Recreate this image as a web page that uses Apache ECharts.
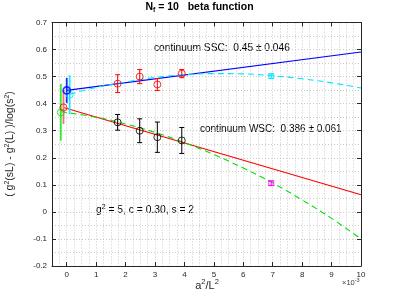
<!DOCTYPE html>
<html><head><meta charset="utf-8">
<script src="https://cdn.jsdelivr.net/npm/echarts@6/dist/echarts.min.js"></script>
<style>html,body{margin:0;padding:0;background:#fff}#c{width:399px;height:299px}</style>
</head><body><div id="c"></div>
<script>
// ---- data (x in units of 1e-3) ----
const latticeX = [1.73, 2.48, 3.08, 3.91];
const sscY = [0.474, 0.500, 0.471, 0.511];
const sscErr = [0.033, 0.026, 0.022, 0.015];
const wscY = [0.331, 0.300, 0.276, 0.264];
const wscErr = [0.029, 0.044, 0.056, 0.048];
// continuum extrapolations [x, y, err]
const contBlue = [0.0, 0.449, 0.046];
const contCyan = [0.1, 0.433, 0.072];
const contRed = [-0.11, 0.386, 0.061];
const contGreen = [-0.2, 0.368, 0.105];
// square points
const sqCyan = [6.95, 0.502, 0.008];
const sqMagenta = [6.95, 0.106, 0.008];
// fit lines
const blueLineX = [0, 10];
const blueLineY = [0.449, 0.591];
const redLineX = [-0.11, 10];
const redLineY = [0.386, 0.063];
const cyanCurveX = [0.1, 1, 2, 3, 4, 5, 6, 7, 8, 9, 10];
const cyanCurveY = [0.435, 0.460, 0.480, 0.497, 0.507, 0.511, 0.510, 0.503, 0.492, 0.477, 0.458];
const greenCurveX = [-0.2, 1, 2, 3, 4, 5, 6, 7, 8, 9, 10];
const greenCurveY = [0.370, 0.350, 0.325, 0.294, 0.256, 0.212, 0.162, 0.107, 0.044, -0.024, -0.100];

const zip = (xs, ys) => xs.map((x, i) => [x, ys[i]]);
const FONT = 'Liberation Sans';
const AX = '#262626';
const GRIDC = '#c8c8c8';

function errSeries(color, pts, caps, lw) {
  return {
    type: 'custom', xAxisIndex: 0, yAxisIndex: 0, z: 3,
    data: pts.map(p => [p[0], p[1] - p[2], p[1] + p[2]]),
    renderItem: function (params, api) {
      const lo = api.coord([api.value(0), api.value(1)]);
      const hi = api.coord([api.value(0), api.value(2)]);
      const w = 2.5;
      const st = { stroke: color, lineWidth: lw || 1 };
      const ch = [{ type: 'line', shape: { x1: lo[0], y1: lo[1], x2: hi[0], y2: hi[1] }, style: st }];
      if (caps !== false) {
        ch.push({ type: 'line', shape: { x1: lo[0] - w, y1: lo[1], x2: lo[0] + w, y2: lo[1] }, style: st });
        ch.push({ type: 'line', shape: { x1: hi[0] - w, y1: hi[1], x2: hi[0] + w, y2: hi[1] }, style: st });
      }
      return { type: 'group', children: ch };
    }
  };
}
function markSeries(color, pts, symbol, size, bw) {
  return {
    type: 'scatter', xAxisIndex: 0, yAxisIndex: 0, z: 4,
    symbol: symbol || 'circle', symbolSize: size || 7,
    itemStyle: { color: 'rgba(0,0,0,0)', borderColor: color, borderWidth: bw || 1 },
    data: pts.map(p => [p[0], p[1]])
  };
}
function lineSeries(color, data, dashed, smooth) {
  return {
    type: 'line', xAxisIndex: 0, yAxisIndex: 0, z: 2, showSymbol: false, symbol: 'none',
    smooth: smooth ? 0.4 : false,
    lineStyle: { color: color, width: 1.1, type: dashed ? [6, 4] : 'solid' },
    data: data
  };
}

const chart = echarts.init(document.getElementById('c'), null, { renderer: 'canvas' });
chart.setOption({
  animation: false,
  backgroundColor: '#fff',
  textStyle: { fontFamily: FONT },
  grid: [
    { left: 52, right: 38, top: 22.5, bottom: 33, containLabel: false },
    { left: 66.7, right: 38, top: 22.5, bottom: 33, containLabel: false }
  ],
  xAxis: [
    { type: 'value', gridIndex: 0, min: -0.5, max: 10, interval: 0.25,
      axisLine: { show: true, onZero: false, lineStyle: { color: AX, width: 1 } },
      axisTick: { show: false }, axisLabel: { show: false },
      splitLine: { show: true, lineStyle: { color: GRIDC, type: [1, 2], width: 1 } } },
    { type: 'value', gridIndex: 0, position: 'top', min: -0.5, max: 10,
      axisLine: { show: true, onZero: false, lineStyle: { color: AX, width: 1 } },
      axisTick: { show: false }, axisLabel: { show: false }, splitLine: { show: false } },
    { type: 'value', gridIndex: 1, min: 0, max: 10, interval: 1, position: 'bottom',
      axisLine: { show: false, onZero: false },
      axisTick: { show: true, inside: true, length: 4, lineStyle: { color: AX } },
      axisLabel: { show: true, color: AX, fontSize: 8, fontFamily: FONT, margin: 5 },
      splitLine: { show: false } },
    { type: 'value', gridIndex: 1, min: 0, max: 10, interval: 1, position: 'top',
      axisLine: { show: false, onZero: false },
      axisTick: { show: true, inside: true, length: 4, lineStyle: { color: AX } },
      axisLabel: { show: false }, splitLine: { show: false } }
  ],
  yAxis: [
    { type: 'value', gridIndex: 0, min: -0.2, max: 0.7, interval: 0.1,
      axisLine: { show: true, onZero: false, lineStyle: { color: AX, width: 1 } },
      axisTick: { show: true, inside: true, length: 4, lineStyle: { color: AX } },
      axisLabel: { show: true, color: AX, fontSize: 8, fontFamily: FONT, margin: 5,
        formatter: v => (Math.abs(v) < 1e-9 ? '0' : (+v.toFixed(1)).toString()) },
      splitLine: { show: true, lineStyle: { color: GRIDC, type: [1, 2], width: 1 } },
      minorTick: { show: false, splitNumber: 2 },
      minorSplitLine: { show: true, lineStyle: { color: GRIDC, type: [1, 2], width: 1 } } },
    { type: 'value', gridIndex: 0, position: 'right', min: -0.2, max: 0.7, interval: 0.1,
      axisLine: { show: true, onZero: false, lineStyle: { color: AX, width: 1 } },
      axisTick: { show: true, inside: true, length: 4, lineStyle: { color: AX } },
      axisLabel: { show: false }, splitLine: { show: false } },
    { type: 'value', gridIndex: 1, min: -0.2, max: 0.7, show: false }
  ],
  series: [
    lineSeries('#0000ff', zip(blueLineX, blueLineY), false, false),
    lineSeries('#ff0000', zip(redLineX, redLineY), false, false),
    lineSeries('#00e5ff', zip(cyanCurveX, cyanCurveY), true, true),
    lineSeries('#00e000', zip(greenCurveX, greenCurveY), true, true),
    errSeries('#ff0000', latticeX.map((x, i) => [x, sscY[i], sscErr[i]])),
    markSeries('#ff0000', latticeX.map((x, i) => [x, sscY[i]])),
    errSeries('#000000', latticeX.map((x, i) => [x, wscY[i], wscErr[i]])),
    markSeries('#000000', latticeX.map((x, i) => [x, wscY[i]])),
    errSeries('#33ee33', [contGreen], false, 1.8),
    markSeries('#00e000', [contGreen]),
    errSeries('#ee7777', [contRed], false, 1.8),
    markSeries('#ff0000', [contRed]),
    errSeries('#22e8ff', [contCyan], false, 1.8),
    markSeries('#00e5ff', [contCyan]),
    errSeries('#2222ff', [contBlue], false, 1.8),
    markSeries('#0000ff', [contBlue], 'circle', 7, 1.8),
    errSeries('#00e5ff', [sqCyan]),
    markSeries('#00e5ff', [sqCyan], 'rect', 5),
    errSeries('#ff00ff', [sqMagenta]),
    markSeries('#ff00ff', [sqMagenta], 'rect', 5)
  ],
  graphic: [
    { type: 'text', left: 'center', top: 2, style: {
        rich: { b: { fontFamily: FONT, fontSize: 10.5, fontWeight: 'bold', fill: '#000' },
                s: { fontFamily: FONT, fontSize: 7, fontWeight: 'bold', fill: '#000', verticalAlign: 'bottom', padding: [6, 0, 0, 0] } },
        text: '{b|N}{s|f}{b| = 10   beta function}' } },
    { type: 'text', x: 154, y: 43, style: { text: 'continuum SSC:  0.45 \u00b1 0.046', fontFamily: FONT, fontSize: 10.2, fill: '#000' } },
    { type: 'text', x: 200, y: 124, style: { text: 'continuum WSC:  0.386 \u00b1 0.061', fontFamily: FONT, fontSize: 10, fill: '#000' } },
    { type: 'text', x: 96, y: 204, style: {
        rich: { n: { fontFamily: FONT, fontSize: 10.3, fill: '#000' },
                p: { fontFamily: FONT, fontSize: 7, fill: '#000', verticalAlign: 'top', padding: [0, 0, 6, 0] } },
        text: '{n|g}{p|2}{n| = 5, c = 0.30, s = 2}' } },
    { type: 'text', x: 207, y: 278, style: {
        align: 'center',
        rich: { n: { fontFamily: FONT, fontSize: 11, fill: '#262626' },
                p: { fontFamily: FONT, fontSize: 7.5, fill: '#262626', padding: [0, 0, 7, 0] } },
        text: '{n|a}{p|2}{n|/L}{p|2}' } },
    { type: 'text', x: 342, y: 277, style: {
        rich: { n: { fontFamily: FONT, fontSize: 7.5, fill: '#404040' },
                p: { fontFamily: FONT, fontSize: 5.5, fill: '#404040', padding: [0, 0, 5, 0] } },
        text: '{n|\u00d710}{p|-3}' } },
    { type: 'text', x: 4, y: 144, rotation: Math.PI / 2, style: {
        align: 'center', verticalAlign: 'top',
        rich: { n: { fontFamily: FONT, fontSize: 10.5, fill: '#262626' },
                p: { fontFamily: FONT, fontSize: 7, fill: '#262626', padding: [0, 0, 6, 0] } },
        text: '{n|( g}{p|2}{n|(sL) - g}{p|2}{n|(L) )/log(s}{p|2}{n|)}' } }
  ]
});
</script></body></html>
